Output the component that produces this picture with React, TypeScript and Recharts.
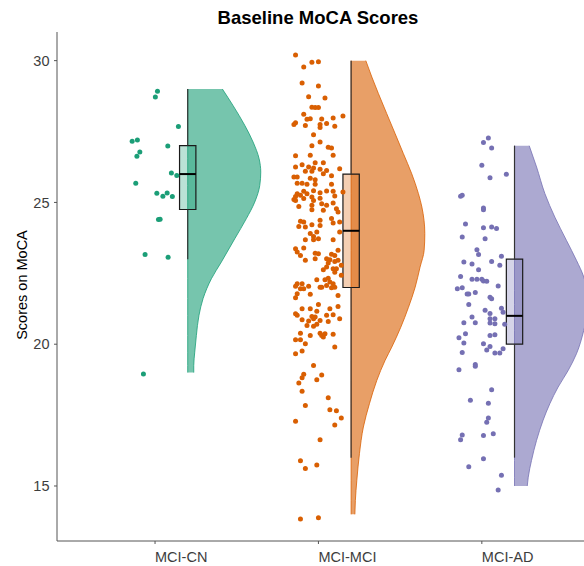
import { ComposedChart, Area, Scatter, XAxis, YAxis, ReferenceArea, ReferenceLine } from "recharts"

const FONT = "'Liberation Sans', Arial, Helvetica, sans-serif"

const categories = ["MCI-CN", "MCI-MCI", "MCI-AD"]
const palette = ["#1B9E77", "#D95F02", "#7570B3"]
const yTicks = [15, 20, 25, 30]

// box stats per group
const boxMin = [23, 16, 16]
const boxQ1 = [24.75, 22, 20]
const boxMedian = [26, 24, 21]
const boxQ3 = [27, 26, 23]
const boxMax = [29, 30, 27]

// half violin outline: [score, half width in category units]
const cnViolin = [
  [29, 0.212], [28.42, 0.277], [27.72, 0.349], [27.13, 0.4], [26.54, 0.437], [26.07, 0.447],
  [25.6, 0.441], [25.01, 0.41], [24.43, 0.359], [23.72, 0.288], [22.9, 0.206], [22.31, 0.145],
  [21.61, 0.094], [21.02, 0.069], [20.31, 0.053], [19.72, 0.043], [19.25, 0.037], [19, 0.037],
]
const mciViolin = [
  [30, 0.09], [29.42, 0.127], [28.84, 0.167], [28.13, 0.218], [27.43, 0.269], [26.72, 0.32],
  [26.01, 0.371], [25.31, 0.412], [24.84, 0.433], [23.9, 0.451], [23.31, 0.447], [22.72, 0.422],
  [22.01, 0.392], [21.3, 0.351], [20.6, 0.304], [19.9, 0.249], [19.43, 0.208], [18.72, 0.157],
  [17.9, 0.112], [17.08, 0.075], [16.14, 0.051], [15.2, 0.035], [14.49, 0.026], [14, 0.023],
]
const adViolin = [
  [27, 0.09], [26.25, 0.135], [25.31, 0.186], [24.48, 0.247], [23.66, 0.318], [22.96, 0.379],
  [22.37, 0.424], [21.9, 0.443], [21.4, 0.447], [20.9, 0.44], [20.49, 0.424], [19.66, 0.379],
  [19.08, 0.329], [18.49, 0.267], [17.9, 0.216], [17.32, 0.175], [16.61, 0.135], [15.9, 0.104],
  [15.31, 0.084], [15, 0.078],
]

// jittered raw scores: [horizontal jitter, score]
const cnDots = [
  [0.015, 28.92], [0.002, 28.72], [0.143, 27.68], [-0.14, 27.16], [-0.108, 27.2], [0.078, 26.99],
  [-0.093, 26.78], [-0.111, 26.63], [0.1, 26.04], [0.133, 25.95], [-0.118, 25.68], [0.011, 25.32],
  [0.048, 25.22], [0.074, 25.33], [0.106, 25.21], [0.021, 24.4], [0.031, 24.41], [-0.061, 23.16],
  [0.08, 23.07], [-0.071, 18.95],
]
const mciDots = [
  [-0.14, 30.2], [-0.09, 29.78], [-0.04, 29.94], [0.0, 29.96], [-0.1, 29.21], [0.0, 29.11],
  [-0.06, 28.73], [0.04, 28.68], [-0.04, 28.36], [-0.02, 28.35], [0.0, 28.35], [-0.09, 28.11],
  [-0.07, 27.93], [-0.05, 27.95], [0.15, 28.05], [0.09, 27.98], [0.02, 27.94], [-0.15, 27.75],
  [-0.14, 27.81], [-0.08, 27.71], [0.01, 27.75], [0.05, 27.78], [0.1, 27.69], [0.01, 27.64],
  [-0.03, 27.39], [0.01, 27.13], [-0.04, 27.0], [0.06, 26.95], [0.08, 26.92], [-0.14, 26.65],
  [-0.05, 26.66], [0.09, 26.66], [-0.1, 26.33], [-0.14, 26.25], [-0.06, 26.25], [-0.03, 26.21],
  [-0.02, 26.4], [0.03, 26.4], [0.13, 26.19], [-0.08, 26.1], [-0.04, 26.1], [0.01, 26.17],
  [0.05, 26.13], [0.03, 26.01], [-0.15, 25.9], [-0.13, 25.9], [-0.05, 25.85], [-0.02, 25.8],
  [0.08, 25.94], [-0.13, 25.68], [-0.1, 25.68], [-0.07, 25.64], [-0.02, 25.64], [0.08, 25.64],
  [0.15, 25.37], [0.09, 25.39], [-0.13, 25.31], [-0.09, 25.39], [-0.07, 25.31], [-0.03, 25.41],
  [0.01, 25.34], [0.05, 25.4], [-0.14, 25.21], [-0.11, 25.25], [-0.04, 25.19], [0.01, 25.15],
  [0.1, 25.23], [-0.15, 25.1], [-0.09, 25.14], [-0.03, 25.07],
  [-0.14, 25.07], [-0.12, 24.86], [-0.04, 24.9], [-0.04, 24.74], [0.02, 24.95], [0.05, 24.9],
  [0.03, 24.72], [0.09, 24.98], [0.11, 24.78], [0.12, 24.66], [-0.11, 24.34], [-0.09, 24.31],
  [-0.12, 24.15], [-0.08, 24.13], [-0.04, 24.21], [0.01, 24.19], [0.01, 24.37], [0.09, 24.27],
  [0.08, 24.43], [0.13, 24.31], [0.13, 23.96], [-0.05, 23.9], [-0.03, 23.8], [-0.01, 23.96],
  [-0.03, 23.68], [-0.08, 23.68], [0.0, 23.72], [0.09, 23.68], [-0.14, 23.37], [-0.13, 23.25],
  [-0.09, 23.39], [-0.11, 23.13], [-0.08, 22.96], [-0.02, 23.21], [0.0, 23.19], [-0.02, 23.01],
  [0.12, 23.31], [0.08, 23.17], [0.1, 23.13], [0.05, 23.01], [0.07, 22.98], [0.06, 22.86],
  [0.1, 22.92], [0.12, 22.96], [0.14, 22.78], [0.03, 22.63], [0.05, 22.72], [0.09, 22.66],
  [0.11, 22.66], [0.1, 22.54], [0.14, 22.43], [-0.01, 22.27], [0.04, 22.27], [0.06, 22.33],
  [0.07, 22.19], [0.09, 22.13], [0.05, 22.07], [0.1, 22.01], [0.08, 21.99], [-0.14, 22.04],
  [-0.13, 22.13], [-0.1, 22.13], [-0.11, 21.96], [-0.09, 21.96], [-0.06, 22.04], [0.01, 22.01],
  [0.02, 22.01], [-0.13, 21.78], [-0.05, 21.76], [-0.14, 21.64], [0.12, 21.72], [0.0, 21.4],
  [-0.1, 21.25], [-0.05, 21.25], [-0.01, 21.16], [0.07, 21.25], [0.12, 21.33], [-0.14, 21.07],
  [-0.13, 21.02], [-0.04, 20.98], [-0.03, 20.9], [-0.02, 20.96], [-0.1, 20.86], [-0.06, 20.82],
  [0.01, 20.84], [0.05, 21.02], [0.09, 21.04], [0.13, 20.9], [0.06, 20.8], [-0.07, 20.66],
  [-0.03, 20.63], [-0.01, 20.7], [0.01, 20.39], [0.02, 20.31], [0.03, 20.25], [0.04, 20.37],
  [0.09, 20.35], [-0.11, 20.39], [-0.05, 20.31], [-0.14, 20.16], [-0.11, 20.16], [-0.08, 20.02],
  [0.1, 19.9], [-0.1, 19.76], [-0.14, 19.66],
  [-0.03, 19.25], [-0.09, 18.94], [-0.1, 18.82], [0.02, 18.91], [-0.01, 18.75], [-0.12, 18.63],
  [-0.1, 18.34], [0.06, 18.11], [-0.08, 17.84], [0.07, 17.69], [0.11, 17.65], [0.14, 17.4],
  [-0.14, 17.28], [0.1, 17.15], [0.01, 16.63], [-0.11, 15.89], [-0.08, 15.62], [-0.01, 15.74],
  [-0.11, 13.84], [0.0, 13.88],
]
const adDots = [
  [0.04, 27.27], [0.01, 27.11], [0.06, 26.92], [0.0, 26.31], [0.05, 25.87], [0.15, 25.99],
  [-0.12, 25.25], [-0.13, 25.22], [0.01, 24.8], [0.01, 24.74], [-0.1, 24.24], [0.01, 24.11],
  [0.06, 24.13], [0.09, 24.08], [-0.12, 23.78], [0.02, 23.72], [-0.03, 23.33], [-0.02, 23.16],
  [0.12, 23.1], [-0.11, 22.9], [-0.06, 22.83], [0.06, 22.92], [0.11, 22.78], [-0.02, 22.63],
  [-0.13, 22.39], [-0.06, 22.29], [-0.03, 22.29], [0.0, 22.29], [0.01, 22.23], [0.03, 22.22],
  [-0.15, 21.96], [-0.12, 21.99], [-0.09, 21.77], [-0.08, 21.77], [-0.04, 21.82], [0.05, 21.66],
  [0.06, 21.6], [0.1, 22.05], [-0.08, 21.4], [0.02, 21.2], [0.12, 21.27],
  [0.05, 21.08], [0.13, 21.13], [-0.06, 20.96], [0.05, 20.9], [0.08, 20.9], [0.05, 20.75],
  [0.08, 20.72], [-0.11, 20.76], [-0.04, 20.76], [0.14, 20.7], [-0.1, 20.37], [-0.14, 20.23],
  [0.05, 20.31], [0.08, 20.33], [-0.11, 20.04], [0.01, 20.02], [0.05, 19.92], [0.03, 19.8],
  [0.13, 19.84], [-0.12, 19.71], [0.08, 19.69], [0.11, 19.69], [-0.04, 19.28], [-0.04, 19.22],
  [-0.14, 19.1], [0.06, 18.39], [-0.07, 18.02], [0.04, 17.92], [0.04, 17.4], [0.03, 17.25],
  [-0.12, 16.8], [-0.13, 16.63], [0.01, 16.78], [0.07, 16.84], [0.01, 15.96], [-0.08, 15.68],
  [0.12, 15.38], [0.1, 14.86],
]

const violins = [cnViolin, mciViolin, adViolin]
const dots = [cnDots, mciDots, adDots]

const NUDGE = 0.2
const BOX_HALF = 0.05

const renderXTick = (props: any) => {
  const { x, y, payload } = props
  return (
    <text x={x} y={y} dy="0.71em" textAnchor="start" fontSize={14.5} fill="#3d3d3d" fontFamily={FONT}>
      {categories[payload.value - 1]}
    </text>
  )
}

export default function App() {
  return (
    <div style={{ position: "fixed", left: 0, top: 0, width: 584, height: 566, overflow: "hidden", background: "#fff", fontFamily: FONT }}>
      <div style={{ position: "absolute", left: 0, top: 0 }}>
        <ComposedChart width={640} height={566} layout="vertical" margin={{ top: 32, right: 0, bottom: 0, left: 0 }}>
          <XAxis
            type="number"
            dataKey="x"
            domain={[0.4, 3.968]}
            allowDataOverflow
            ticks={[1, 2, 3]}
            interval={0}
            height={25}
            tickSize={3}
            tickMargin={8}
            tick={renderXTick}
            axisLine={{ stroke: "#555" }}
            tickLine={{ stroke: "#555" }}
          />
          <YAxis
            type="number"
            dataKey="y"
            domain={[13.06, 31.01]}
            allowDataOverflow
            reversed
            ticks={yTicks}
            interval={0}
            width={57}
            tickSize={3}
            tickMargin={4.5}
            tick={{ fontSize: 14.5, fill: "#3d3d3d", fontFamily: FONT }}
            axisLine={{ stroke: "#555" }}
            tickLine={{ stroke: "#555" }}
          />
          {violins.map((v, i) => (
            <Area
              key={"v" + i}
              data={v.map(([score, w]) => ({ y: score, band: [i + 1 + NUDGE, i + 1 + NUDGE + w] }))}
              dataKey="band"
              type="monotone"
              fill={palette[i]}
              fillOpacity={0.6}
              stroke={palette[i]}
              strokeWidth={0.8}
              dot={false}
              activeDot={false}
              isAnimationActive={false}
            />
          ))}
          {categories.map((c, i) => (
            <ReferenceLine
              key={"wl" + i}
              segment={[{ x: i + 1 + NUDGE, y: boxMin[i] }, { x: i + 1 + NUDGE, y: boxQ1[i] }]}
              stroke="#333"
              strokeWidth={1.2}
              ifOverflow="visible"
            />
          ))}
          {categories.map((c, i) => (
            <ReferenceLine
              key={"wu" + i}
              segment={[{ x: i + 1 + NUDGE, y: boxQ3[i] }, { x: i + 1 + NUDGE, y: boxMax[i] }]}
              stroke="#333"
              strokeWidth={1.2}
              ifOverflow="visible"
            />
          ))}
          {categories.map((c, i) => (
            <ReferenceArea
              key={"b" + i}
              x1={i + 1 + NUDGE - BOX_HALF}
              x2={i + 1 + NUDGE + BOX_HALF}
              y1={boxQ1[i]}
              y2={boxQ3[i]}
              fill={palette[i]}
              fillOpacity={0.3}
              stroke="#1a1a1a"
              strokeWidth={1.2}
              ifOverflow="visible"
            />
          ))}
          {categories.map((c, i) => (
            <ReferenceLine
              key={"m" + i}
              segment={[{ x: i + 1 + NUDGE - BOX_HALF, y: boxMedian[i] }, { x: i + 1 + NUDGE + BOX_HALF, y: boxMedian[i] }]}
              stroke="#000"
              strokeWidth={2}
              ifOverflow="visible"
            />
          ))}
          {dots.map((d, i) => (
            <Scatter
              key={"s" + i}
              data={d.map(([j, score]) => ({ x: i + 1 + j, y: score }))}
              fill={palette[i]}
              shape={(p: any) => <circle cx={p.cx} cy={p.cy} r={2.5} fill={palette[i]} />}
              isAnimationActive={false}
            />
          ))}
        </ComposedChart>
      </div>
      <div style={{ position: "absolute", left: 0, width: 636, top: 7.5, textAlign: "center", fontSize: 18.5, fontWeight: 700, lineHeight: "19px", color: "#000" }}>
        Baseline MoCA Scores
      </div>
      <div style={{ position: "absolute", left: 22, top: 285, transform: "translate(-50%, -50%) rotate(-90deg)", whiteSpace: "nowrap", fontSize: 14.5, color: "#000" }}>
        Scores on MoCA
      </div>
    </div>
  )
}
